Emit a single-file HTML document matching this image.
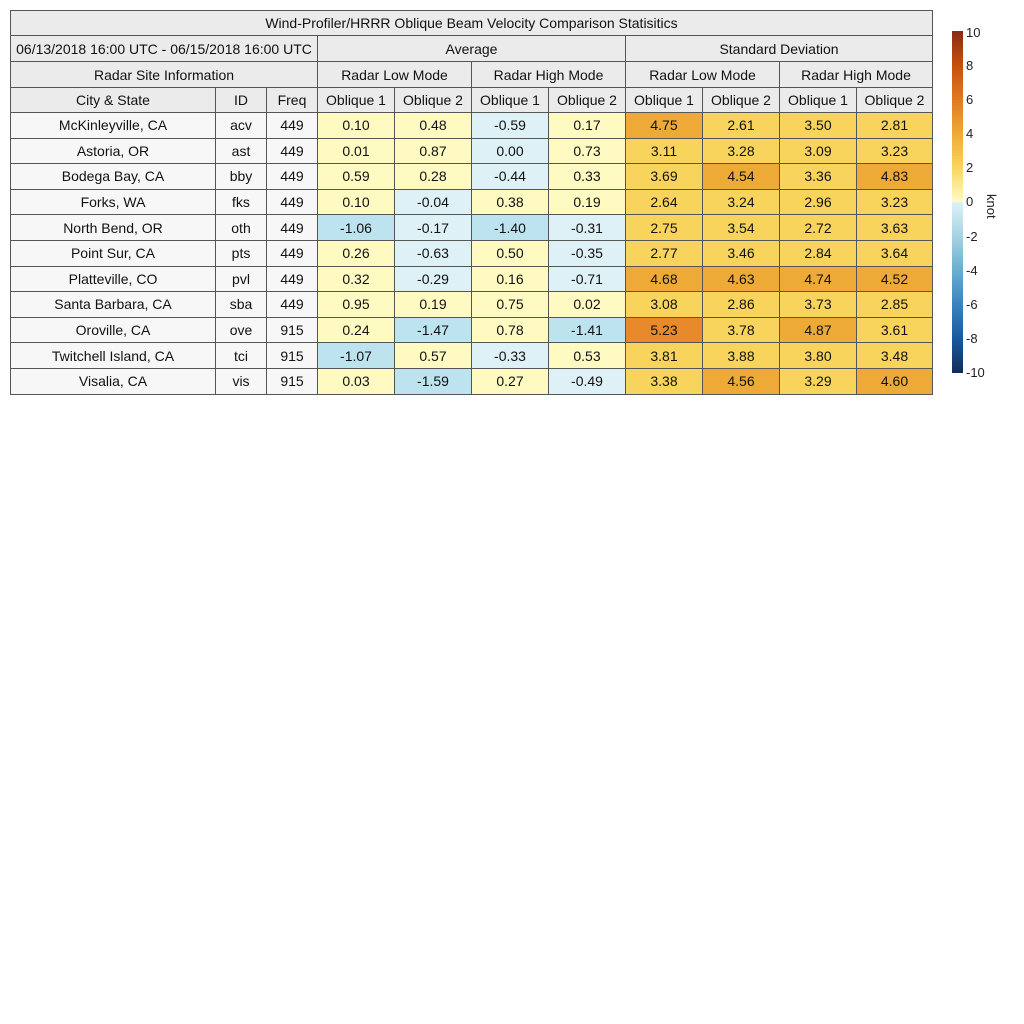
<!DOCTYPE html><html><head><style>
body{margin:0;width:1024px;height:1024px;background:#fff;font-family:"Liberation Sans",sans-serif;position:relative;overflow:hidden}
table{position:absolute;left:10px;top:10px;border-collapse:collapse;table-layout:fixed;font-size:14px;color:#111}
td{border:1px solid #555;text-align:center;padding:0;height:24px;line-height:14px;overflow:hidden;white-space:nowrap}
.h td{background:#ebebeb}
.d td{height:24.6px}
.d td.s{background:#f7f7f7}
.a{background:#fffac2}.b{background:#ddf1f7}.c{background:#bde3ee}
.e{background:#f8d45c}.f{background:#eeaa36}.g{background:#e88a2b}
.cb{position:absolute;left:952px;top:31px;width:11px;height:342px;background:linear-gradient(to bottom,#8a2a1a 0%,#c64f0c 10%,#e07a20 20%,#eeaa36 30%,#f8d65c 40%,#fffbc8 49.9%,#ddf2f8 50.1%,#a6d3e3 60%,#6aaed0 70%,#3a83bd 80%,#1a5a9c 90%,#0f2c5a 100%)}
.t{position:absolute;left:966px;font-size:13px;color:#222;line-height:13px}
</style></head><body>
<table>
<colgroup><col style="width:205px"><col style="width:51px"><col style="width:51px"><col style="width:77px"><col style="width:77px"><col style="width:77px"><col style="width:77px"><col style="width:77px"><col style="width:77px"><col style="width:77px"><col style="width:76px"></colgroup>
<tr class="h"><td colspan="11">Wind-Profiler/HRRR Oblique Beam Velocity Comparison Statisitics</td></tr>
<tr class="h"><td colspan="3" style="height:25px">06/13/2018 16:00 UTC - 06/15/2018 16:00 UTC</td><td colspan="4">Average</td><td colspan="4">Standard Deviation</td></tr>
<tr class="h"><td colspan="3" style="height:25px">Radar Site Information</td><td colspan="2">Radar Low Mode</td><td colspan="2">Radar High Mode</td><td colspan="2">Radar Low Mode</td><td colspan="2">Radar High Mode</td></tr>
<tr class="h"><td>City &amp; State</td><td>ID</td><td>Freq</td><td>Oblique 1</td><td>Oblique 2</td><td>Oblique 1</td><td>Oblique 2</td><td>Oblique 1</td><td>Oblique 2</td><td>Oblique 1</td><td>Oblique 2</td></tr>
<tr class="d"><td class="s">McKinleyville, CA</td><td class="s">acv</td><td class="s">449</td><td class="a">0.10</td><td class="a">0.48</td><td class="b">-0.59</td><td class="a">0.17</td><td class="f">4.75</td><td class="e">2.61</td><td class="e">3.50</td><td class="e">2.81</td></tr>
<tr class="d"><td class="s">Astoria, OR</td><td class="s">ast</td><td class="s">449</td><td class="a">0.01</td><td class="a">0.87</td><td class="b">0.00</td><td class="a">0.73</td><td class="e">3.11</td><td class="e">3.28</td><td class="e">3.09</td><td class="e">3.23</td></tr>
<tr class="d"><td class="s">Bodega Bay, CA</td><td class="s">bby</td><td class="s">449</td><td class="a">0.59</td><td class="a">0.28</td><td class="b">-0.44</td><td class="a">0.33</td><td class="e">3.69</td><td class="f">4.54</td><td class="e">3.36</td><td class="f">4.83</td></tr>
<tr class="d"><td class="s">Forks, WA</td><td class="s">fks</td><td class="s">449</td><td class="a">0.10</td><td class="b">-0.04</td><td class="a">0.38</td><td class="a">0.19</td><td class="e">2.64</td><td class="e">3.24</td><td class="e">2.96</td><td class="e">3.23</td></tr>
<tr class="d"><td class="s">North Bend, OR</td><td class="s">oth</td><td class="s">449</td><td class="c">-1.06</td><td class="b">-0.17</td><td class="c">-1.40</td><td class="b">-0.31</td><td class="e">2.75</td><td class="e">3.54</td><td class="e">2.72</td><td class="e">3.63</td></tr>
<tr class="d"><td class="s">Point Sur, CA</td><td class="s">pts</td><td class="s">449</td><td class="a">0.26</td><td class="b">-0.63</td><td class="a">0.50</td><td class="b">-0.35</td><td class="e">2.77</td><td class="e">3.46</td><td class="e">2.84</td><td class="e">3.64</td></tr>
<tr class="d"><td class="s">Platteville, CO</td><td class="s">pvl</td><td class="s">449</td><td class="a">0.32</td><td class="b">-0.29</td><td class="a">0.16</td><td class="b">-0.71</td><td class="f">4.68</td><td class="f">4.63</td><td class="f">4.74</td><td class="f">4.52</td></tr>
<tr class="d"><td class="s">Santa Barbara, CA</td><td class="s">sba</td><td class="s">449</td><td class="a">0.95</td><td class="a">0.19</td><td class="a">0.75</td><td class="a">0.02</td><td class="e">3.08</td><td class="e">2.86</td><td class="e">3.73</td><td class="e">2.85</td></tr>
<tr class="d"><td class="s">Oroville, CA</td><td class="s">ove</td><td class="s">915</td><td class="a">0.24</td><td class="c">-1.47</td><td class="a">0.78</td><td class="c">-1.41</td><td class="g">5.23</td><td class="e">3.78</td><td class="f">4.87</td><td class="e">3.61</td></tr>
<tr class="d"><td class="s">Twitchell Island, CA</td><td class="s">tci</td><td class="s">915</td><td class="c">-1.07</td><td class="a">0.57</td><td class="b">-0.33</td><td class="a">0.53</td><td class="e">3.81</td><td class="e">3.88</td><td class="e">3.80</td><td class="e">3.48</td></tr>
<tr class="d"><td class="s">Visalia, CA</td><td class="s">vis</td><td class="s">915</td><td class="a">0.03</td><td class="c">-1.59</td><td class="a">0.27</td><td class="b">-0.49</td><td class="e">3.38</td><td class="f">4.56</td><td class="e">3.29</td><td class="f">4.60</td></tr>
</table>
<div class="cb"></div>
<div class="t" style="top:26px">10</div><div class="t" style="top:59px">8</div><div class="t" style="top:93px">6</div><div class="t" style="top:127px">4</div><div class="t" style="top:161px">2</div><div class="t" style="top:195px">0</div><div class="t" style="top:230px">-2</div><div class="t" style="top:264px">-4</div><div class="t" style="top:298px">-6</div><div class="t" style="top:332px">-8</div><div class="t" style="top:366px">-10</div>
<div style="position:absolute;left:975px;top:194px;font-size:13px;color:#222;transform:rotate(90deg);transform-origin:left top;left:999px">knot</div>
</body></html>
